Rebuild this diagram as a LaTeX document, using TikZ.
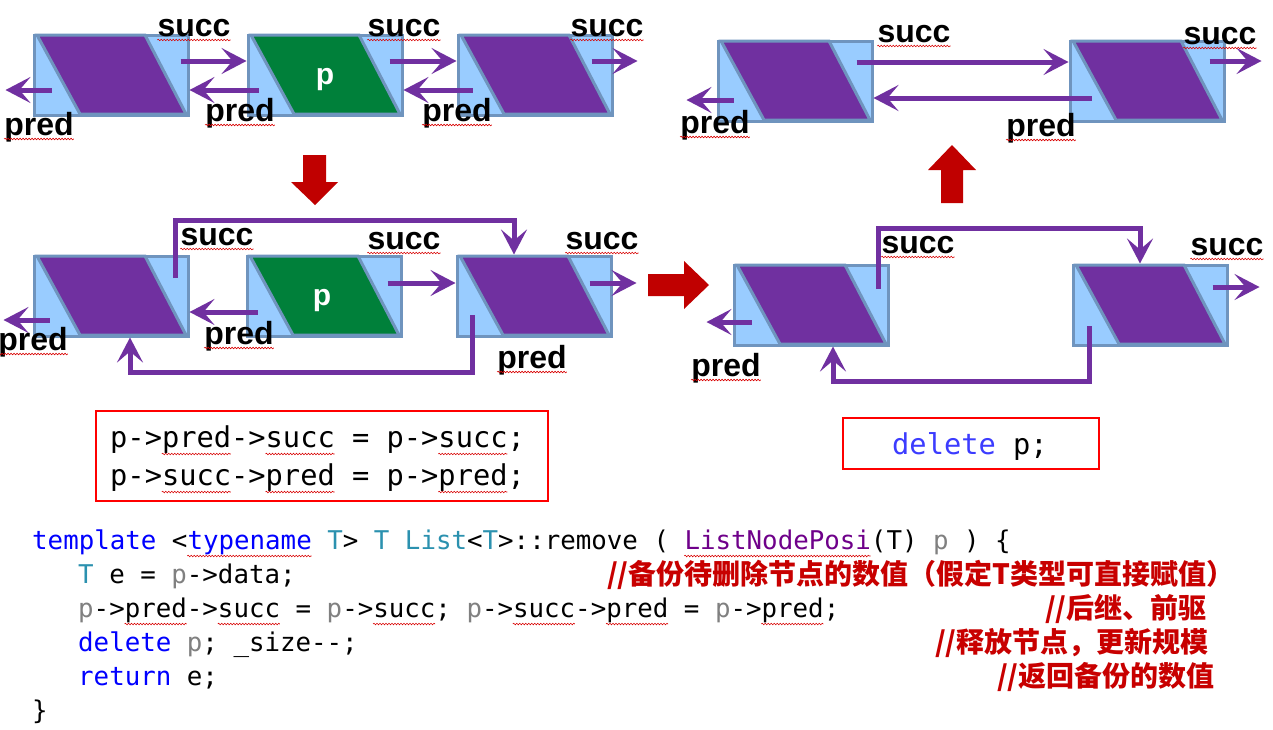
\documentclass[tikz,border=0pt]{standalone}
\usepackage{fontspec}
\setmonofont{DejaVu Sans Mono}
\newfontfamily\lblfont{Liberation Sans}
\newfontfamily\cjk{Noto Sans CJK SC}
\usetikzlibrary{arrows.meta,positioning,decorations.pathmorphing}

\definecolor{cellblue}{HTML}{99CCFF}
\definecolor{celledge}{HTML}{6F94BE}
\definecolor{vio}{HTML}{7030A0}
\definecolor{grn}{HTML}{00803A}
\definecolor{darkred}{HTML}{C00000}
\definecolor{kw}{HTML}{0000FF}
\definecolor{delblue}{HTML}{3C3CFF}
\definecolor{ty}{HTML}{2B91AF}
\definecolor{pg}{HTML}{808080}
\definecolor{mp}{HTML}{6F008A}
\definecolor{cm}{HTML}{C80000}

\tikzset{
  cell/.style={draw=celledge, fill=cellblue, line width=3pt, minimum width=154pt, minimum height=80pt, inner sep=0pt},
  ptr/.style={draw=vio, line width=5pt, -{Stealth[length=25pt,width=26pt,inset=11pt]}},
  wave/.style={draw=red!85!black, line width=0.6pt, decorate, decoration={snake, amplitude=0.8pt, segment length=3pt}},
  lbl/.style={font=\lblfont\bfseries\fontsize{32}{32}\selectfont, inner sep=0pt, anchor=base,
    append after command={([yshift=-4pt]\tikzlastnode.base west) edge[wave] ([yshift=-4pt]\tikzlastnode.base east)}},
  code/.style={font=\ttfamily\fontsize{25.8}{26}\selectfont, inner sep=0pt, anchor=base west},
  boxcode/.style={font=\ttfamily\fontsize{28.7}{29}\selectfont, inner sep=0pt, anchor=base west},
  note/.style={font=\cjk\bfseries\fontsize{28}{28}\selectfont, text=cm, inner sep=0pt, anchor=west},
  codebox/.style={draw=red, line width=1.2pt, inner sep=0pt}
}

\begin{document}
\begin{tikzpicture}[x=1pt, y=-1pt]
  \useasboundingbox (0,0) rectangle (1273,729);
  \fill[white] (0,0) rectangle (1273,729);

  % list nodes
  \foreach \nm/\x/\y/\clr in {t1/111/75/vio, t2/325/75/grn, t3/535/75/vio,
      r1/795/81/vio, r2/1147/81/vio, m1/111/296/vio, m2/324/296/grn, m3/534/296/vio,
      d1/811/305/vio, d2/1150/305/vio}{
    \node[cell] (\nm) at (\x,\y) {};
    \filldraw[fill=\clr, draw=celledge, line width=3pt, shift={(\nm.center)}]
      (-74,-40) -- (34,-40) -- (75,39) -- (-31,39) -- cycle;
  }
  \node[font=\lblfont\bfseries\fontsize{30}{30}\selectfont, text=white] (p1) at ([yshift=-5pt]t2) {p};
  \node[font=\lblfont\bfseries\fontsize{30}{30}\selectfont, text=white] (p2) at ([xshift=-2pt,yshift=-5pt]m2) {p};

  % before
  \draw[ptr] ([xshift=-9pt,yshift=14pt]t1.east) -- ([yshift=14pt]t2.west);
  \draw[ptr] ([xshift=12pt,yshift=-15pt]t2.west) -- ([yshift=-15pt]t1.east);
  \draw[ptr] ([xshift=-14pt,yshift=14pt]t2.east) -- ([yshift=14pt]t3.west);
  \draw[ptr] ([xshift=16pt,yshift=-15pt]t3.west) -- ([yshift=-15pt]t2.east);
  \draw[ptr] ([xshift=-22pt,yshift=14pt]t3.east) -- ++(46,0);
  \draw[ptr] ([xshift=19pt,yshift=-15pt]t1.west) -- ++(-46,0);
  \node[lbl] (ts1) at (194,36) {succ};
  \node[lbl] (ts2) at (404,36) {succ};
  \node[lbl] (ts3) at (607,36) {succ};
  \node[lbl] (tp1) at (39,135) {pred};
  \node[lbl] (tp2) at (240,121) {pred};
  \node[lbl] (tp3) at (457,121) {pred};

  % relink
  \draw[ptr] ([xshift=17pt,yshift=-24pt]m1.west) -- ++(-46,0);
  \draw[ptr] ([xshift=12pt,yshift=-16pt]m2.west) -- ([yshift=-16pt]m1.east);
  \draw[ptr] ([xshift=-15pt,yshift=13pt]m2.east) -- ([yshift=13pt]m3.west);
  \draw[ptr] ([xshift=-23pt,yshift=13pt]m3.east) -- ++(47,0);
  \draw[ptr] ([xshift=-14pt,yshift=18pt]m1.east) -- ++(0,-58) -| ([xshift=-20pt]m3.north);
  \draw[ptr] ([xshift=-62pt,yshift=-19pt]m3.center) -- ++(0,57) -| ([xshift=19pt]m1.south);
  \node[lbl] (ms1) at (217,245) {succ};
  \node[lbl] (ms2) at (404,249) {succ};
  \node[lbl] (ms3) at (602,249) {succ};
  \node[lbl] (mp1) at (33,350) {pred};
  \node[lbl] (mp2) at (239,344) {pred};
  \node[lbl] (mp3) at (532,368) {pred};

  % unlinked
  \draw[ptr] ([xshift=19pt,yshift=-17pt]d1.west) -- ++(-45,0);
  \draw[ptr] ([xshift=-16pt,yshift=18pt]d2.east) -- ++(47,0);
  \draw[ptr] ([xshift=-11pt,yshift=16pt]d1.east) -- ++(0,-61) -| ([xshift=-10pt]d2.north);
  \draw[ptr] ([xshift=-61pt,yshift=-21pt]d2.center) -- ++(0,55) -| ([xshift=22pt]d1.south);
  \node[lbl] (ds1) at (918,253) {succ};
  \node[lbl] (ds2) at (1227,255) {succ};
  \node[lbl] (dp1) at (726,376) {pred};

  % after
  \draw[ptr] ([xshift=-17pt,yshift=19pt]r1.east) -- ([yshift=19pt]r2.west);
  \draw[ptr] ([xshift=23pt,yshift=-17pt]r2.west) -- ([yshift=-17pt]r1.east);
  \draw[ptr] ([xshift=-16pt,yshift=20pt]r2.east) -- ++(52,0);
  \draw[ptr] ([xshift=17pt,yshift=-19pt]r1.west) -- ++(-47,0);
  \node[lbl] (rs1) at (914,42) {succ};
  \node[lbl] (rs2) at (1220,44) {succ};
  \node[lbl] (rp1) at (715,133) {pred};
  \node[lbl] (rp2) at (1041,136) {pred};

  % big arrows
  \fill[darkred] (303,155) -- (326,155) -- (326,182) -- (338,182) -- (315,205) -- (291,182) -- (303,182) -- cycle;
  \fill[darkred] (648,274) -- (684,274) -- (684,261) -- (709,285) -- (684,309) -- (684,296) -- (648,296) -- cycle;
  \fill[darkred] (941,203) -- (941,170) -- (928,170) -- (952,145) -- (976,170) -- (963,170) -- (963,203) -- cycle;

  % boxed statements
  \node[codebox, minimum width=452pt, minimum height=90pt] (eq) at (322,456) {};
  \node[boxcode] (eq1) at (110,447) {p->pred->succ = p->succ;};
  \node[boxcode] (eq2) at (110,485) {p->succ->pred = p->pred;};
  \node[codebox, minimum width=256pt, minimum height=51pt] (del) at (971,443.5) {};
  \node[boxcode] (del1) at (892,454) {\textcolor{delblue}{delete} p;};

  % code
  \node[code] (l1) at (32,549) {\textcolor{kw}{template} <\textcolor{kw}{typename} \textcolor{ty}{T}> \textcolor{ty}{T} \textcolor{ty}{List}<\textcolor{ty}{T}>::remove ( \textcolor{mp}{ListNodePosi}(T) \textcolor{pg}{p} ) \{};
  \node[code] (l2) at (78,583) {\textcolor{ty}{T} e = \textcolor{pg}{p}->data;};
  \node[code] (l3) at (78,617) {\textcolor{pg}{p}->pred->succ = \textcolor{pg}{p}->succ; \textcolor{pg}{p}->succ->pred = \textcolor{pg}{p}->pred;};
  \node[code] (l4) at (78,651) {\textcolor{kw}{delete} \textcolor{pg}{p}; \_size--;};
  \node[code] (l5) at (78,685) {\textcolor{kw}{return} e;};
  \node[code] (l6) at (32,719) {\}};
  \node[note] (n2) at (607,575) {//备份待删除节点的数值（假定T类型可直接赋值）};
  \node[note] (n3) at (1045,609) {//后继、前驱};
  \node[note] (n4) at (935,643) {//释放节点，更新规模};
  \node[note] (n5) at (997,677) {//返回备份的数值};

  % spell marks under words (char index / length)
  \foreach \ln/\i/\n in {eq1/3/4, eq1/9/4, eq1/19/4, eq2/3/4, eq2/9/4, eq2/19/4}
    \draw[wave] ([xshift=\i*17.28pt, yshift=-7pt]\ln.base west) -- ++(\n*17.28,0);
  \foreach \ln/\i/\n in {l1/10/8, l1/42/12, l3/3/4, l3/9/4, l3/19/4, l3/28/4, l3/34/4, l3/44/4}
    \draw[wave] ([xshift=\i*15.53pt, yshift=-7pt]\ln.base west) -- ++(\n*15.53,0);
\end{tikzpicture}
\end{document}
